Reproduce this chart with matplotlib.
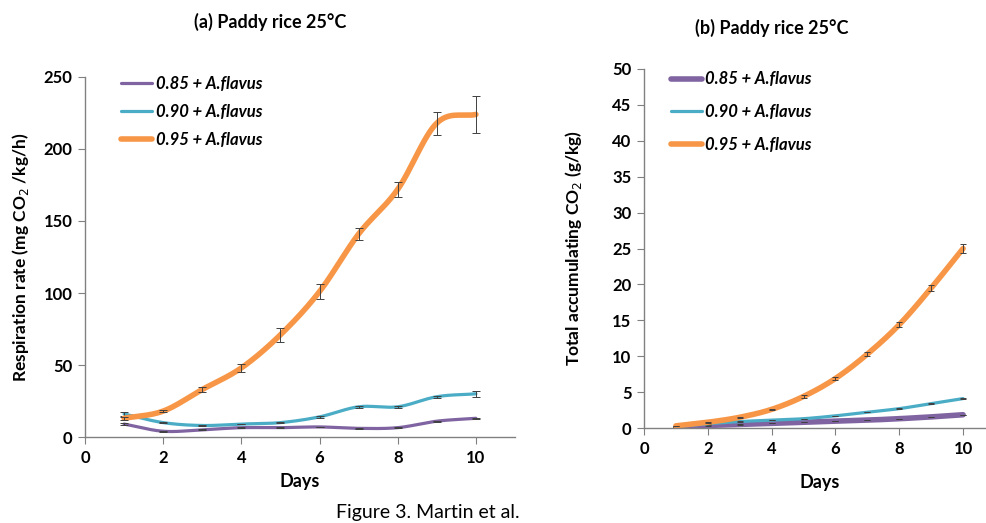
import numpy as np
import matplotlib
matplotlib.use('Agg')
from matplotlib import pyplot as plt

plt.rcParams['font.family'] = ['Lato', 'DejaVu Sans']

days = [1, 2, 3, 4, 5, 6, 7, 8, 9, 10]
labels = ['0.85 + A.flavus', '0.90 + A.flavus', '0.95 + A.flavus']
colors = ['#8064A2', '#4BACC6', '#F79646']

# (a) respiration rate
rate_085 = [9, 4, 5, 6.5, 6.5, 7, 6, 6.5, 11, 13]
rate_090 = [16, 10, 8, 9, 10, 14, 21, 21, 28, 30]
rate_095 = [13, 18, 33, 48, 71, 101, 141, 172, 218, 224]
rate_err_085 = [1, 0.3, 0.3, 0.3, 0.3, 0.3, 0.3, 0.3, 0.3, 0.5]
rate_err_090 = [1.5, 0.3, 0.3, 0.3, 0.3, 0.5, 0.7, 0.7, 0.7, 2]
rate_err_095 = [1, 0.5, 2, 3, 5, 5, 4, 5, 8, 13]

# (b) total accumulated CO2
acc_085 = [0.1, 0.35, 0.5, 0.65, 0.8, 0.95, 1.1, 1.3, 1.55, 1.85]
acc_090 = [0.2, 0.6, 0.9, 1.1, 1.3, 1.7, 2.2, 2.7, 3.4, 4.1]
acc_095 = [0.3, 0.8, 1.5, 2.6, 4.4, 6.9, 10.3, 14.4, 19.5, 25.0]
acc_err_095 = [0.05, 0.05, 0.05, 0.05, 0.15, 0.15, 0.25, 0.4, 0.4, 0.6]


def smooth(x, y, n=30):
    # catmull-rom like excel smoothed line
    x = np.asarray(x, float)
    y = np.asarray(y, float)
    px = np.concatenate([[2 * x[0] - x[1]], x, [2 * x[-1] - x[-2]]])
    py = np.concatenate([[2 * y[0] - y[1]], y, [2 * y[-1] - y[-2]]])
    xs, ys = [], []
    t = np.linspace(0, 1, n)
    for i in range(1, len(px) - 2):
        for p, out in ((px, xs), (py, ys)):
            p0, p1, p2, p3 = p[i - 1], p[i], p[i + 1], p[i + 2]
            out.extend(0.5 * (2 * p1 + (-p0 + p2) * t + (2 * p0 - 5 * p1 + 4 * p2 - p3) * t ** 2
                              + (-p0 + 3 * p1 - 3 * p2 + p3) * t ** 3))
    return xs, ys


fig = plt.figure(figsize=(9.87, 5.23), dpi=100)
ax1 = fig.add_axes([0.0861, 0.1644, 0.4357, 0.6884])
ax2 = fig.add_axes([0.6525, 0.1816, 0.3556, 0.6865])

widths_a = [2.3, 2.3, 4]
for vals, err, c, lw, lab in zip([rate_085, rate_090, rate_095], [rate_err_085, rate_err_090, rate_err_095],
                                 colors, widths_a, labels):
    sx, sy = smooth(days, vals)
    ax1.plot(sx, sy, color=c, lw=lw, label=lab, solid_capstyle='round')
    ax1.errorbar(days, vals, yerr=err, fmt='none', ecolor='#404040', elinewidth=0.7, capsize=3, capthick=0.7)

widths_b = [4, 2.3, 4]
acc_errs = [[0.02] * 10, [0.02] * 10, acc_err_095]
for vals, err, c, lw, lab in zip([acc_085, acc_090, acc_095], acc_errs, colors, widths_b, labels):
    sx, sy = smooth(days, vals)
    ax2.plot(sx, sy, color=c, lw=lw, label=lab, solid_capstyle='round')
    ax2.errorbar(days, vals, yerr=err, fmt='none', ecolor='#404040', elinewidth=0.7, capsize=2.5, capthick=0.7)

ax1.set_xlim(0, 11)
ax1.set_ylim(0, 250)
ax1.set_xticks([0, 2, 4, 6, 8, 10])
ax1.set_yticks([0, 50, 100, 150, 200, 250])
ax2.set_xlim(0, 11)
ax2.set_ylim(0, 50)
ax2.set_xticks([0, 2, 4, 6, 8, 10])
ax2.set_yticks(range(0, 51, 5))

legend_opts = {ax1: (0.05, 1.045, 0.72), ax2: (0.035, 1.035, 1.0)}
for ax in (ax1, ax2):
    for s in ('top', 'right'):
        ax.spines[s].set_visible(False)
    for s in ('left', 'bottom'):
        ax.spines[s].set_color('#808080')
        ax.spines[s].set_linewidth(1)
    ax.tick_params(direction='out', length=5, color='#808080', labelsize=12, pad=4)
    for t in ax.get_xticklabels() + ax.get_yticklabels():
        t.set_fontweight('bold')
    ax.set_xlabel('Days', fontsize=13, fontweight='bold')
    bx, by, sp = legend_opts[ax]
    ax.legend(loc='upper left', bbox_to_anchor=(bx, by), frameon=False, handlelength=1.85,
              handletextpad=0.2, labelspacing=sp,
              prop={'style': 'italic', 'weight': 'bold', 'size': 12})

ax1.xaxis.set_label_coords(0.5, -0.10)
ax2.xaxis.set_label_coords(0.5, -0.128)
ax1.set_ylabel('Respiration rate (mg CO$_2$ /kg/h)', fontsize=12.5, fontweight='bold', labelpad=9)
ax2.set_ylabel('Total accumulating CO$_2$ (g/kg)', fontsize=12.5, fontweight='bold', labelpad=20)

fig.text(0.274, 0.958, '(a) Paddy rice 25°C', ha='center', va='center', fontsize=13, fontweight='bold')
fig.text(0.782, 0.946, '(b) Paddy rice 25°C', ha='center', va='center', fontsize=13, fontweight='bold')
fig.text(0.433, 0.021, 'Figure 3. Martin et al.', ha='center', va='center', fontsize=14)

plt.savefig('out.png', dpi=100)
